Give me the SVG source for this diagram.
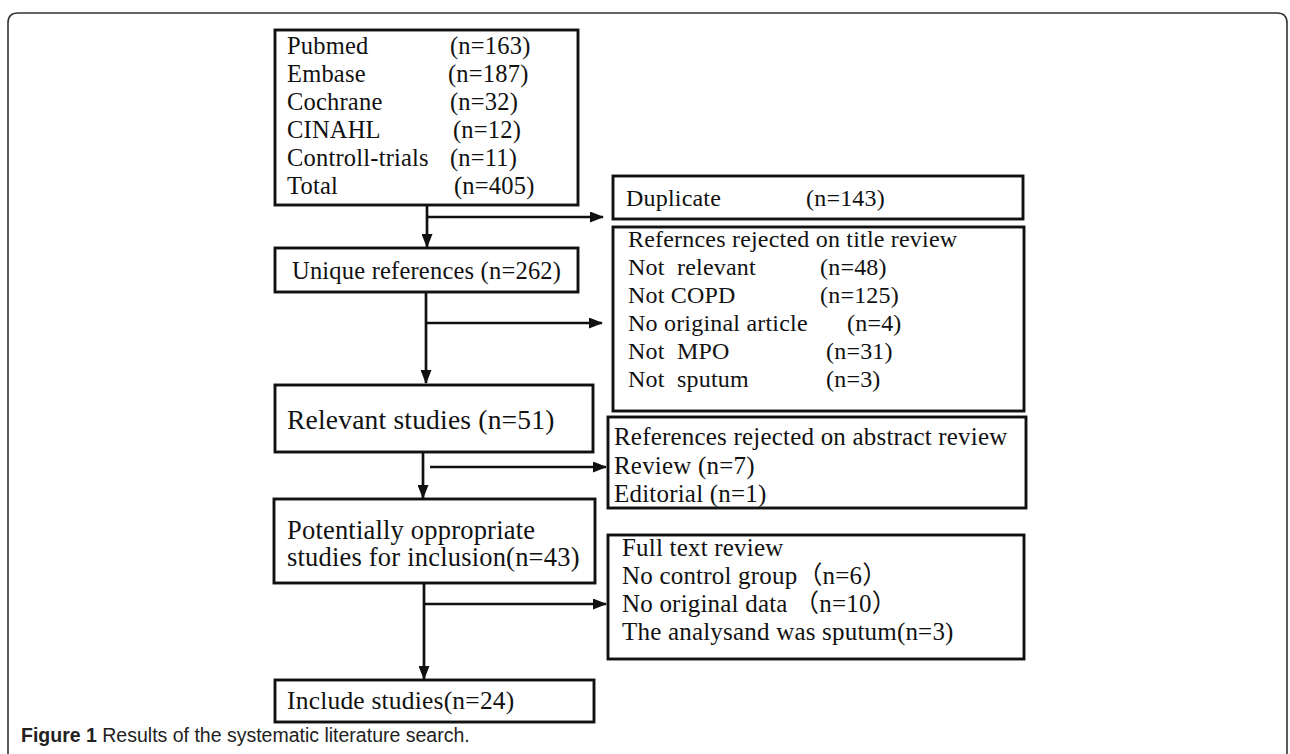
<svg xmlns="http://www.w3.org/2000/svg" width="1290" height="754" viewBox="0 0 1290 754">
<defs>
<style>
.box{fill:#fff;stroke:#111;stroke-width:2.9}
.t{font-family:"Liberation Serif","Noto Sans CJK SC",serif;font-size:24px;fill:#111;letter-spacing:0.2px}
.ln{fill:none;stroke:#111;stroke-width:2.7}
.cap{font-family:"Liberation Sans",Arial,sans-serif;font-size:19.5px;fill:#222}
</style>
<marker id="ah" viewBox="0 0 14 11" refX="13" refY="5.5" markerWidth="14" markerHeight="11" markerUnits="userSpaceOnUse" orient="auto">
<path d="M0,0 L14,5.5 L0,11 Z" fill="#111"/>
</marker>
</defs>
<rect width="1290" height="754" fill="#fff"/>
<path d="M8,760 L8,23 Q8,13 18,13 L1277,13 Q1287,13 1287,23 L1287,760" fill="none" stroke="#333" stroke-width="1.6"/>

<g id="connectors">
<path class="ln" d="M427,205 L427,247" marker-end="url(#ah)"/>
<path class="ln" d="M427,217 L603,217" marker-end="url(#ah)"/>
<path class="ln" d="M426,292 L426,383" marker-end="url(#ah)"/>
<path class="ln" d="M426,323 L602,323" marker-end="url(#ah)"/>
<path class="ln" d="M423,452 L423,498" marker-end="url(#ah)"/>
<path class="ln" d="M430,467 L606,467" marker-end="url(#ah)"/>
<path class="ln" d="M424,583 L424,679" marker-end="url(#ah)"/>
<path class="ln" d="M424,604 L606,604" marker-end="url(#ah)"/>
</g>

<g id="sources">
<rect class="box" x="275" y="30" width="303" height="175"/>
<text class="t" style="font-size:24.5px" x="287" y="54">Pubmed</text><text class="t" style="font-size:24.5px" x="450" y="54">(n=163)</text>
<text class="t" style="font-size:24.5px" x="287" y="82">Embase</text><text class="t" style="font-size:24.5px" x="448" y="82">(n=187)</text>
<text class="t" style="font-size:24.5px" x="287" y="110">Cochrane</text><text class="t" style="font-size:24.5px" x="450" y="110">(n=32)</text>
<text class="t" style="font-size:24.5px" x="287" y="138">CINAHL</text><text class="t" style="font-size:24.5px" x="453" y="138">(n=12)</text>
<text class="t" style="font-size:24.5px" x="287" y="166">Controll-trials</text><text class="t" style="font-size:24.5px" x="450" y="166">(n=11)</text>
<text class="t" style="font-size:24.5px" x="287" y="194">Total</text><text class="t" style="font-size:24.5px" x="454" y="194">(n=405)</text>
</g>

<g id="duplicate">
<rect class="box" x="613" y="176" width="410" height="43"/>
<text class="t" x="626" y="206">Duplicate</text><text class="t" x="806" y="206">(n=143)</text>
</g>

<g id="unique">
<rect class="box" x="275" y="248" width="303" height="44"/>
<text class="t" style="font-size:24.5px" x="292" y="279">Unique references (n=262)</text>
</g>

<g id="title-review">
<rect class="box" x="613" y="227" width="411" height="184"/>
<text class="t" x="628" y="247">Refernces rejected on title review</text>
<text class="t" x="628" y="275" xml:space="preserve">Not  relevant</text><text class="t" x="820" y="275">(n=48)</text>
<text class="t" x="628" y="303">Not COPD</text><text class="t" x="820" y="303">(n=125)</text>
<text class="t" x="628" y="331">No original article</text><text class="t" x="847" y="331">(n=4)</text>
<text class="t" x="628" y="359" xml:space="preserve">Not  MPO</text><text class="t" x="826" y="359">(n=31)</text>
<text class="t" x="628" y="387" xml:space="preserve">Not  sputum</text><text class="t" x="826" y="387">(n=3)</text>
</g>

<g id="relevant">
<rect class="box" x="275" y="385" width="318" height="67"/>
<text class="t" style="font-size:27.5px" x="287" y="429">Relevant studies (n=51)</text>
</g>

<g id="abstract-review">
<rect class="box" x="608" y="417" width="418" height="91"/>
<text class="t" style="font-size:25px" x="614" y="445">References rejected on abstract review</text>
<text class="t" style="font-size:25px" x="614" y="474">Review (n=7)</text>
<text class="t" style="font-size:25px" x="614" y="502">Editorial (n=1)</text>
</g>

<g id="potentially">
<rect class="box" x="274" y="499" width="321" height="84"/>
<text class="t" style="font-size:26.5px" x="287" y="539">Potentially oppropriate</text>
<text class="t" style="font-size:26.5px" x="287" y="566">studies for inclusion(n=43)</text>
</g>

<g id="fulltext-review">
<rect class="box" x="608" y="535" width="416" height="124"/>
<text class="t" style="font-size:25px" x="622" y="556">Full text review</text>
<text class="t" style="font-size:25px" x="622" y="584">No control group（n=6）</text>
<text class="t" style="font-size:25px" x="622" y="612">No original data （n=10）</text>
<text class="t" style="font-size:25px" x="622" y="640">The analysand was sputum(n=3)</text>
</g>

<g id="include">
<rect class="box" x="275" y="680" width="319" height="42"/>
<text class="t" style="font-size:25.5px" x="287" y="709">Include studies(n=24)</text>
</g>

<text class="cap" x="21" y="742"><tspan font-weight="bold">Figure 1</tspan> Results of the systematic literature search.</text>
</svg>
